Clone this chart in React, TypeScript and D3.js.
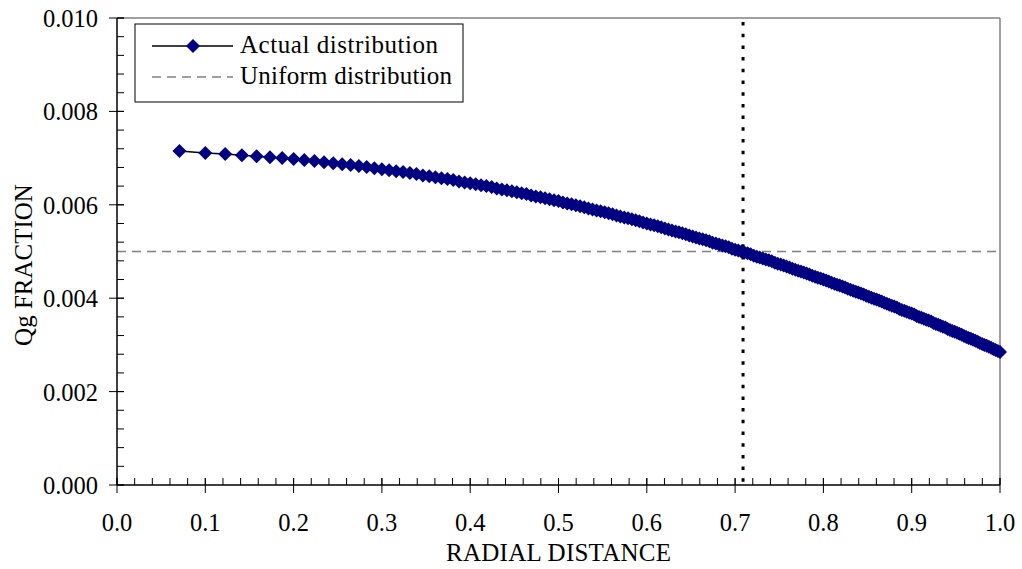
import React from 'react';
import * as d3 from 'd3';

const width = 1022;
const height = 569;
const margin = {top: 18, right: 22, bottom: 84, left: 117};
const navy = '#000080';
const gray = '#808080';
const font = "'Times New Roman', 'Liberation Serif', 'DejaVu Serif', serif";

// radial positions of the points (equal-area rings)
const radialDistance = [
  0.0707, 0.1000, 0.1225, 0.1414, 0.1581, 0.1732, 0.1871, 0.2000, 0.2121, 0.2236,
  0.2345, 0.2449, 0.2550, 0.2646, 0.2739, 0.2828, 0.2915, 0.3000, 0.3082, 0.3162,
  0.3240, 0.3317, 0.3391, 0.3464, 0.3536, 0.3606, 0.3674, 0.3742, 0.3808, 0.3873,
  0.3937, 0.4000, 0.4062, 0.4123, 0.4183, 0.4243, 0.4301, 0.4359, 0.4416, 0.4472,
  0.4528, 0.4583, 0.4637, 0.4690, 0.4743, 0.4796, 0.4848, 0.4899, 0.4950, 0.5000,
  0.5050, 0.5099, 0.5148, 0.5196, 0.5244, 0.5292, 0.5339, 0.5385, 0.5431, 0.5477,
  0.5523, 0.5568, 0.5612, 0.5657, 0.5701, 0.5745, 0.5788, 0.5831, 0.5874, 0.5916,
  0.5958, 0.6000, 0.6042, 0.6083, 0.6124, 0.6164, 0.6205, 0.6245, 0.6285, 0.6325,
  0.6364, 0.6403, 0.6442, 0.6481, 0.6519, 0.6557, 0.6595, 0.6633, 0.6671, 0.6708,
  0.6745, 0.6782, 0.6819, 0.6856, 0.6892, 0.6928, 0.6964, 0.7000, 0.7036, 0.7071,
  0.7106, 0.7141, 0.7176, 0.7211, 0.7246, 0.7280, 0.7314, 0.7348, 0.7382, 0.7416,
  0.7450, 0.7483, 0.7517, 0.7550, 0.7583, 0.7616, 0.7649, 0.7681, 0.7714, 0.7746,
  0.7778, 0.7810, 0.7842, 0.7874, 0.7906, 0.7937, 0.7969, 0.8000, 0.8031, 0.8062,
  0.8093, 0.8124, 0.8155, 0.8185, 0.8216, 0.8246, 0.8276, 0.8307, 0.8337, 0.8367,
  0.8396, 0.8426, 0.8456, 0.8485, 0.8515, 0.8544, 0.8573, 0.8602, 0.8631, 0.8660,
  0.8689, 0.8718, 0.8746, 0.8775, 0.8803, 0.8832, 0.8860, 0.8888, 0.8916, 0.8944,
  0.8972, 0.9000, 0.9028, 0.9055, 0.9083, 0.9110, 0.9138, 0.9165, 0.9192, 0.9220,
  0.9247, 0.9274, 0.9301, 0.9327, 0.9354, 0.9381, 0.9407, 0.9434, 0.9460, 0.9487,
  0.9513, 0.9539, 0.9566, 0.9592, 0.9618, 0.9644, 0.9670, 0.9695, 0.9721, 0.9747,
  0.9772, 0.9798, 0.9823, 0.9849, 0.9874, 0.9899, 0.9925, 0.9950, 0.9975, 1.0000,
];

// Qg fraction for each ring
const qgFraction = [
  0.00715, 0.00711, 0.00709, 0.00706, 0.00704, 0.00702, 0.00700, 0.00698, 0.00696, 0.00694,
  0.00691, 0.00689, 0.00687, 0.00685, 0.00683, 0.00681, 0.00678, 0.00676, 0.00674, 0.00672,
  0.00670, 0.00668, 0.00666, 0.00663, 0.00661, 0.00659, 0.00657, 0.00655, 0.00653, 0.00650,
  0.00648, 0.00646, 0.00644, 0.00642, 0.00640, 0.00638, 0.00635, 0.00633, 0.00631, 0.00629,
  0.00627, 0.00625, 0.00623, 0.00620, 0.00618, 0.00616, 0.00614, 0.00612, 0.00610, 0.00608,
  0.00605, 0.00603, 0.00601, 0.00599, 0.00597, 0.00595, 0.00592, 0.00590, 0.00588, 0.00586,
  0.00584, 0.00582, 0.00580, 0.00577, 0.00575, 0.00573, 0.00571, 0.00569, 0.00567, 0.00565,
  0.00562, 0.00560, 0.00558, 0.00556, 0.00554, 0.00552, 0.00549, 0.00547, 0.00545, 0.00543,
  0.00541, 0.00539, 0.00537, 0.00534, 0.00532, 0.00530, 0.00528, 0.00526, 0.00524, 0.00522,
  0.00519, 0.00517, 0.00515, 0.00513, 0.00511, 0.00509, 0.00506, 0.00504, 0.00502, 0.00500,
  0.00498, 0.00496, 0.00494, 0.00491, 0.00489, 0.00487, 0.00485, 0.00483, 0.00481, 0.00479,
  0.00476, 0.00474, 0.00472, 0.00470, 0.00468, 0.00466, 0.00463, 0.00461, 0.00459, 0.00457,
  0.00455, 0.00453, 0.00451, 0.00448, 0.00446, 0.00444, 0.00442, 0.00440, 0.00438, 0.00436,
  0.00433, 0.00431, 0.00429, 0.00427, 0.00425, 0.00423, 0.00420, 0.00418, 0.00416, 0.00414,
  0.00412, 0.00410, 0.00408, 0.00405, 0.00403, 0.00401, 0.00399, 0.00397, 0.00395, 0.00393,
  0.00390, 0.00388, 0.00386, 0.00384, 0.00382, 0.00380, 0.00377, 0.00375, 0.00373, 0.00371,
  0.00369, 0.00367, 0.00365, 0.00362, 0.00360, 0.00358, 0.00356, 0.00354, 0.00352, 0.00350,
  0.00347, 0.00345, 0.00343, 0.00341, 0.00339, 0.00337, 0.00334, 0.00332, 0.00330, 0.00328,
  0.00326, 0.00324, 0.00322, 0.00319, 0.00317, 0.00315, 0.00313, 0.00311, 0.00309, 0.00307,
  0.00304, 0.00302, 0.00300, 0.00298, 0.00296, 0.00294, 0.00291, 0.00289, 0.00287, 0.00285,
];

const uniformFraction = 0.005;
const markerRadius = 0.709; // dotted vertical line

const xTicks = [0, 0.1, 0.2, 0.3, 0.4, 0.5, 0.6, 0.7, 0.8, 0.9, 1.0];
const yTicks = [0, 0.002, 0.004, 0.006, 0.008, 0.010];
const legendLabels = ['Actual distribution', 'Uniform distribution'];

const x = d3.scaleLinear().domain([0, 1]).range([margin.left, width - margin.right]);
const y = d3.scaleLinear().domain([0, 0.01]).range([height - margin.bottom, margin.top]);

const xMinor = d3.range(0, 1.0001, 0.02);
const yMinor = d3.range(0, 0.01001, 0.0004);

const diamond = 'M0,-7L7,0L0,7L-7,0Z';

export default function App() {
  const points = radialDistance.map((r, i) => ({r, q: qgFraction[i]}));
  const line = d3.line<{r: number; q: number}>().x(d => x(d.r)).y(d => y(d.q))(points);
  const x0 = x(0), x1 = x(1), y0 = y(0), y1 = y(0.01);

  return (
    <svg width={width} height={height}
      style={{position: 'absolute', left: 0, top: 0, background: '#fff', fontFamily: font}}>
      {/* frame */}
      <line x1={x0} x2={x1} y1={y1} y2={y1} stroke={gray} strokeWidth={1.5}/>
      <line x1={x1} x2={x1} y1={y1} y2={y0} stroke={gray} strokeWidth={1.5}/>

      {/* reference lines */}
      <line x1={x0} x2={x1} y1={y(uniformFraction)} y2={y(uniformFraction)}
        stroke={gray} strokeWidth={1.5} strokeDasharray="9 6"/>
      <line x1={x(markerRadius)} x2={x(markerRadius)} y1={y1 + 4} y2={y0}
        stroke="#000" strokeWidth={3} strokeDasharray="3.5 8.2"/>

      {/* series */}
      <path d={line || ''} fill="none" stroke="#000" strokeWidth={1.5}/>
      {points.map((d, i) => (
        <path key={i} d={diamond} transform={`translate(${x(d.r)},${y(d.q)})`} fill={navy}/>
      ))}

      {/* axes */}
      <line x1={x0} x2={x1} y1={y0} y2={y0} stroke="#000" strokeWidth={1.5}/>
      <line x1={x0} x2={x0} y1={y1} y2={y0} stroke="#000" strokeWidth={1.5}/>
      {xMinor.map((t, i) => (
        <line key={'xm' + i} x1={x(t)} x2={x(t)} y1={y0 - 7} y2={y0} stroke="#000" strokeWidth={1}/>
      ))}
      {xTicks.map(t => (
        <g key={'xt' + t}>
          <line x1={x(t)} x2={x(t)} y1={y0 - 7} y2={y0 + 8} stroke="#000" strokeWidth={1}/>
          <text x={x(t)} y={531} textAnchor="middle" fontSize={24.5}>{t.toFixed(1)}</text>
        </g>
      ))}
      {yMinor.map((t, i) => (
        <line key={'ym' + i} x1={x0} x2={x0 + 7} y1={y(t)} y2={y(t)} stroke="#000" strokeWidth={1}/>
      ))}
      {yTicks.map(t => (
        <g key={'yt' + t}>
          <line x1={x0 - 8} x2={x0 + 7} y1={y(t)} y2={y(t)} stroke="#000" strokeWidth={1}/>
          <text x={98} y={y(t) + 9} textAnchor="end" fontSize={24.5}>{t.toFixed(3)}</text>
        </g>
      ))}

      {/* axis titles */}
      <text x={(x0 + x1) / 2} y={561} textAnchor="middle" fontSize={25} textLength={225}
        lengthAdjust="spacing">RADIAL DISTANCE</text>
      <text transform={`translate(32,265) rotate(-90)`} textAnchor="middle" fontSize={25}>
        Qg FRACTION
      </text>

      {/* legend */}
      <g>
        <rect x={135} y={24} width={328} height={78} fill="#fff" stroke="#000" strokeWidth={1}/>
        <line x1={152} x2={233} y1={46} y2={46} stroke="#000" strokeWidth={1.5}/>
        <path d={diamond} transform="translate(193,46)" fill={navy}/>
        <text x={240} y={53} fontSize={25} textLength={198} lengthAdjust="spacing">{legendLabels[0]}</text>
        <line x1={152} x2={233} y1={77} y2={77} stroke={gray} strokeWidth={1.5} strokeDasharray="9 6"/>
        <text x={240} y={84} fontSize={25} textLength={212} lengthAdjust="spacing">{legendLabels[1]}</text>
      </g>
    </svg>
  );
}
